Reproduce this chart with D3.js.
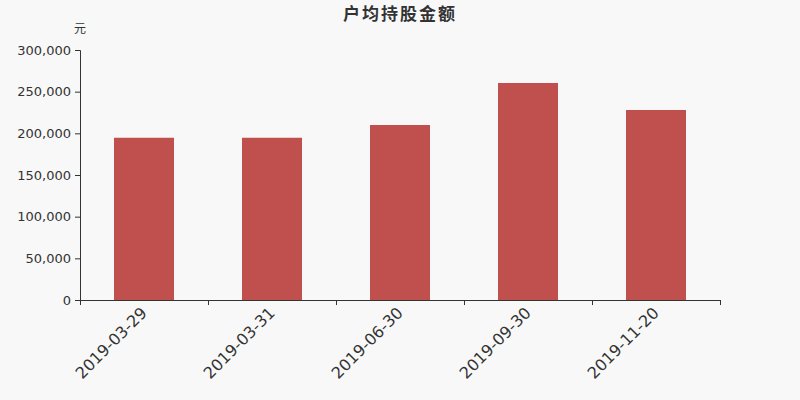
<!DOCTYPE html>
<html>
<head>
<meta charset="utf-8">
<script src="https://cdn.jsdelivr.net/npm/d3@7"></script>
<style>
  body { margin: 0; background: #f8f8f8; }
  svg { display: block; }
  text { font-family: "DejaVu Sans", "Noto Sans CJK SC", sans-serif; fill: #333; }
</style>
</head>
<body>
<div id="chart"></div>
<script>
const categories = ['2019-03-29', '2019-03-31', '2019-06-30', '2019-09-30', '2019-11-20'];
const values = [194700, 194700, 210000, 260400, 228000];
const yTicks = [0, 50000, 100000, 150000, 200000, 250000, 300000];
const title = '户均持股金额';
const unit = '元';

const margin = { top: 50, right: 80, bottom: 100, left: 80 };
const width = 800 - margin.left - margin.right;
const height = 400 - margin.top - margin.bottom;

const svg = d3.select('#chart')
    .append('svg')
    .attr('width', 800)
    .attr('height', 400);

svg.append('rect')
    .attr('width', 800)
    .attr('height', 400)
    .attr('fill', '#f8f8f8');

// title and unit
svg.append('text')
    .attr('x', 400)
    .attr('y', 20)
    .attr('text-anchor', 'middle')
    .style('font-family', '"Noto Sans CJK SC", sans-serif')
    .style('font-size', '17px')
    .style('font-weight', 'bold')
    .style('letter-spacing', '2px')
    .text(title);

svg.append('text')
    .attr('x', 80)
    .attr('y', 33)
    .attr('text-anchor', 'middle')
    .style('font-family', '"Noto Sans CJK SC", sans-serif')
    .style('font-size', '12px')
    .text(unit);

const g = svg.append('g')
    .attr('transform', `translate(${margin.left},${margin.top})`);

const band = d3.scaleBand()
    .domain(categories)
    .range([0, width]);

const y = d3.scaleLinear()
    .domain([0, 300000])
    .range([height, 0]);

// bars
g.selectAll('.bar')
    .data(values)
    .enter()
    .append('rect')
    .attr('class', 'bar')
    .attr('x', (d, i) => band(categories[i]) + band.bandwidth() / 2 - 30)
    .attr('width', 60)
    .attr('y', d => y(d))
    .attr('height', d => height - y(d))
    .attr('fill', '#c0504e');

// y axis
const yAxis = g.append('g')
    .call(d3.axisLeft(y).tickValues(yTicks).tickFormat(d3.format(',')).tickSize(5).tickPadding(4));
yAxis.select('.domain').attr('stroke', '#333');
yAxis.selectAll('.tick line').attr('stroke', '#333');
yAxis.selectAll('.tick text').style('font-size', '13px').attr('fill', '#333');

// x axis with ticks at band edges
const xAxis = g.append('g')
    .attr('transform', `translate(0,${height})`);
xAxis.append('line')
    .attr('x1', 0).attr('x2', width)
    .attr('y1', 0.5).attr('y2', 0.5)
    .attr('stroke', '#333');
const edges = categories.map(c => band(c)).concat([width]);
xAxis.selectAll('.edge')
    .data(edges)
    .enter()
    .append('line')
    .attr('x1', d => d + 0.5).attr('x2', d => d + 0.5)
    .attr('y1', 0).attr('y2', 5)
    .attr('stroke', '#333');
xAxis.selectAll('.lbl')
    .data(categories)
    .enter()
    .append('text')
    .attr('transform', d => `translate(${band(d) + band.bandwidth() / 2},${10}) rotate(-45)`)
    .attr('text-anchor', 'end')
    .attr('dy', '0.35em')
    .style('font-size', '16px')
    .text(d => d);
</script>
</body>
</html>
